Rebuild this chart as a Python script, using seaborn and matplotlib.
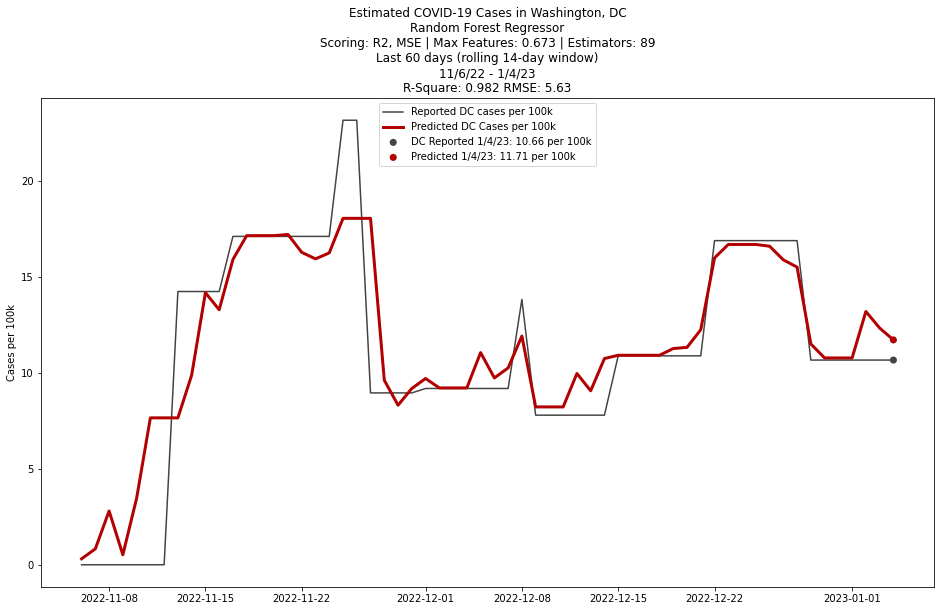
import pandas as pd
import matplotlib.pyplot as plt
import seaborn as sns
import numpy as np

# last 60 days, 11/6/22 - 1/4/23
dates = pd.date_range("2022-11-06", "2023-01-04", freq="D")

reported = [0, 0, 0, 0, 0, 0, 0, 14.23, 14.23, 14.23,
            14.23, 17.1, 17.1, 17.1, 17.1, 17.1, 17.1, 17.1, 17.1, 23.15,
            23.15, 8.95, 8.95, 8.95, 8.95, 9.18, 9.18, 9.18, 9.18, 9.18,
            9.18, 9.18, 13.82, 7.79, 7.79, 7.79, 7.79, 7.79, 7.79, 10.88,
            10.88, 10.88, 10.88, 10.88, 10.88, 10.88, 16.88, 16.88, 16.88, 16.88,
            16.88, 16.88, 16.88, 10.66, 10.66, 10.66, 10.66, 10.66, 10.66, 10.66]

predicted = [0.31, 0.83, 2.8, 0.52, 3.46, 7.65, 7.65, 7.65, 9.87, 14.17,
             13.28, 15.9, 17.14, 17.14, 17.14, 17.2, 16.27, 15.93, 16.24, 18.04,
             18.04, 18.04, 9.61, 8.31, 9.18, 9.7, 9.21, 9.21, 9.21, 11.05,
             9.73, 10.25, 11.91, 8.22, 8.22, 8.22, 9.96, 9.06, 10.74, 10.91,
             10.91, 10.91, 10.91, 11.26, 11.32, 12.24, 15.98, 16.68, 16.68, 16.68,
             16.59, 15.88, 15.5, 11.5, 10.77, 10.77, 10.77, 13.19, 12.33, 11.71]

df = pd.DataFrame({"date": dates, "reported": reported, "predicted": predicted})
last = df.iloc[[-1]]

fig, ax = plt.subplots(figsize=(940 / 72, 611 / 72), dpi=72)
fig.subplots_adjust(left=0.0436, right=0.9936, top=0.8396, bottom=0.0393)

sns.lineplot(data=df, x="date", y="reported", color="#444444", linewidth=1.5,
             label="Reported DC cases per 100k", ax=ax)
sns.lineplot(data=df, x="date", y="predicted", color="#b30000", linewidth=3,
             label="Predicted DC Cases per 100k", ax=ax)
sns.scatterplot(data=last, x="date", y="reported", color="#444444", s=50,
                edgecolor="none", label="DC Reported 1/4/23: 10.66 per 100k", ax=ax)
sns.scatterplot(data=last, x="date", y="predicted", color="#b30000", s=50,
                edgecolor="none", label="Predicted 1/4/23: 11.71 per 100k", ax=ax)

ax.set_xlabel("")
ax.set_ylabel("Cases per 100k")
ax.legend(loc="upper center")
ax.set_title("Estimated COVID-19 Cases in Washington, DC\n"
             "Random Forest Regressor\n"
             "Scoring: R2, MSE | Max Features: 0.673 | Estimators: 89\n"
             "Last 60 days (rolling 14-day window)\n"
             "11/6/22 - 1/4/23\n"
             "R-Square: 0.982 RMSE: 5.63", fontsize=12)

fig.savefig("out.png", dpi=72)
